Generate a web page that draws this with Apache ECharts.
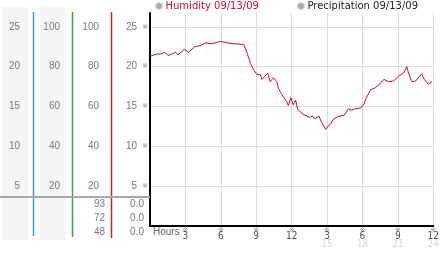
<!DOCTYPE html>
<html><head><meta charset="utf-8">
<script src="https://cdn.jsdelivr.net/npm/echarts@6/dist/echarts.min.js"></script>
<style>html,body{margin:0;padding:0;background:#fff}#c{width:442px;height:253px}</style>
</head><body><div id="c"></div>
<script>
// ---- data ----
const seriesNames = ['Humidity 09/13/09', 'Precipitation 09/13/09'];
const hours = [0.00,0.56,0.92,1.26,1.53,1.87,2.15,2.37,2.93,3.26,3.77,4.33,4.74,5.16,5.58,5.94,6.22,6.97,7.95,8.23,8.51,8.79,9.06,9.35,9.48,9.98,10.18,10.46,10.74,10.88,11.16,11.57,11.72,11.94,12.13,12.33,12.52,12.97,13.53,13.75,13.95,14.31,14.50,14.88,15.06,15.26,15.54,15.90,16.46,16.82,17.10,17.38,17.85,18.13,18.30,18.69,19.05,19.39,19.81,20.23,20.64,21.06,21.48,21.76,21.90,22.18,22.51,23.01,23.24,23.57,23.90];
const humidity = [21.3,21.6,21.6,21.8,21.4,21.6,21.8,21.5,22.2,21.8,22.5,22.7,23.0,22.9,23.0,23.2,23.1,22.9,22.8,21.7,20.4,19.6,19.0,19.0,18.4,19.2,18.1,18.6,18.1,17.3,16.5,15.6,15.1,16.1,15.2,15.8,14.6,14.0,13.6,13.8,13.4,13.8,13.1,12.1,12.5,12.7,13.4,13.7,13.9,14.7,14.5,14.7,14.8,15.3,16.0,17.1,17.3,17.7,18.4,18.1,18.2,18.8,19.2,20.0,19.2,18.1,18.2,19.1,18.4,17.8,18.1];
const precipitation = [];
const hourTicks = [3,6,9,12,15,18,21,24];
const tickLabelsTop = ['3','6','9','12','3','6','9','12'];
const tickLabelsBottom = ['','','','','15','18','21','24'];
const scaleA = [5,10,15,20,25];          // columns 1 and 4
const scaleB = [20,40,60,80,100];        // columns 2 and 3
const humidityRows = ['93','72','48'];
const precipRows = ['0.0','0.0','0.0'];

// ---- layout ----
const GL = 150, GT = 13, GR = 5, GB = 27.5;
const YMAX = 26.76;
const FONT = 'Liberation Sans, Arial, sans-serif';

function colAxis(offset, max, interval, list) {
  return {
    type: 'value', position: 'left', offset: offset, min: 0, max: max, interval: interval,
    axisLine: {show: false}, axisTick: {show: false}, splitLine: {show: false},
    axisLabel: {margin: 0, color: '#7a7a7a', fontSize: 10, fontFamily: FONT,
      formatter: v => list.indexOf(Math.round(v * 1000) / 1000) >= 0 ? String(v) : ''}
  };
}

const chart = echarts.init(document.getElementById('c'), null, {renderer: 'canvas'});
const graphics = [
  {type: 'rect', shape: {x: 2, y: 7, width: 26, height: 233}, style: {fill: '#f5f5f5'}, z: -10},
  {type: 'rect', shape: {x: 40, y: 7, width: 26, height: 233}, style: {fill: '#f5f5f5'}, z: -10},
  {type: 'line', shape: {x1: 33.5, y1: 12, x2: 33.5, y2: 236}, style: {stroke: '#3a9fc6', lineWidth: 1.5}},
  {type: 'line', shape: {x1: 72.5, y1: 12, x2: 72.5, y2: 237}, style: {stroke: '#3aa83a', lineWidth: 1.5}},
  {type: 'line', shape: {x1: 111.5, y1: 12, x2: 111.5, y2: 238}, style: {stroke: '#b42a2a', lineWidth: 1.5}},
  {type: 'line', shape: {x1: 0, y1: 197, x2: 150, y2: 197}, style: {stroke: '#a8a8a8', lineWidth: 2}, z: 5},
  {type: 'text', x: 153, y: 232, style: {text: 'Hours', fill: '#666', font: '10px ' + FONT, textVerticalAlign: 'middle'}}
];
const rowY = [204.5, 218.5, 232.5];
humidityRows.forEach((t, i) => graphics.push({type: 'text', x: 105, y: rowY[i], style: {text: t, fill: '#7a7a7a', font: '10px ' + FONT, textAlign: 'right', textVerticalAlign: 'middle'}}));
precipRows.forEach((t, i) => graphics.push({type: 'text', x: 144, y: rowY[i], style: {text: t, fill: '#7a7a7a', font: '10px ' + FONT, textAlign: 'right', textVerticalAlign: 'middle'}}));

chart.setOption({
  animation: false,
  backgroundColor: '#fff',
  legend: {
    top: 1, left: 155, padding: 0, itemGap: 38, itemWidth: 7, itemHeight: 7, icon: 'circle',
    textStyle: {fontSize: 10, fontFamily: 'DejaVu Sans, sans-serif', padding: [0, 0, 0, -2]},
    data: [
      {name: seriesNames[0], itemStyle: {color: '#aaa', borderColor: '#ddd', borderWidth: 1}, textStyle: {color: '#c8102e'}},
      {name: seriesNames[1], itemStyle: {color: '#aaa', borderColor: '#ddd', borderWidth: 1}, textStyle: {color: '#222'}}
    ]
  },
  grid: {left: GL, top: GT, right: GR, bottom: GB, containLabel: false},
  xAxis: {
    type: 'value', min: 0, max: 24, interval: 3,
    axisLine: {lineStyle: {color: '#000', width: 2}},
    axisTick: {show: false},
    splitLine: {show: true, showMinLine: false, lineStyle: {color: '#dcdcdc', width: 1}},
    axisLabel: {
      margin: 2, verticalAlign: 'top',
      formatter: v => {
        const i = hourTicks.indexOf(v);
        if (i < 0) return '';
        return '{m|※}\n{a|' + tickLabelsTop[i] + '}\n{b|' + (tickLabelsBottom[i] || ' ') + '}';
      },
      rich: {
        m: {fontSize: 7, lineHeight: 5, color: '#888', fontFamily: 'DejaVu Sans'},
        a: {fontSize: 10, lineHeight: 8, color: '#555', fontFamily: 'DejaVu Sans Condensed, Liberation Sans Narrow, ' + FONT},
        b: {fontSize: 10, lineHeight: 8, color: '#d8d8d8', fontFamily: 'DejaVu Sans Condensed, Liberation Sans Narrow, ' + FONT}
      }
    }
  },
  yAxis: [
    {
      type: 'value', position: 'left', min: 0, max: YMAX, interval: 5,
      axisLine: {show: true, lineStyle: {color: '#000', width: 2}},
      axisTick: {show: false},
      splitLine: {show: true, showMaxLine: false, showMinLine: false, lineStyle: {color: '#dcdcdc', width: 1}},
      axisLabel: {margin: 2, fontSize: 7, color: '#888', fontFamily: 'DejaVu Sans',
        formatter: v => scaleA.indexOf(v) >= 0 ? '※' : ''}
    },
    colAxis(13, YMAX, 5, scaleA),
    colAxis(51, YMAX * 4, 20, scaleB),
    colAxis(90, YMAX * 4, 20, scaleB),
    colAxis(130, YMAX, 5, scaleA)
  ],
  series: [
    {name: seriesNames[0], type: 'line', yAxisIndex: 0, showSymbol: false, symbol: 'none',
     lineStyle: {color: '#c8102e', width: 1}, itemStyle: {color: '#c8102e'},
     data: hours.map((h, i) => [h, humidity[i]])},
    {name: seriesNames[1], type: 'line', yAxisIndex: 0, showSymbol: false, symbol: 'none',
     lineStyle: {color: '#333', width: 1}, data: precipitation}
  ],
  graphic: graphics
});
</script></body></html>
